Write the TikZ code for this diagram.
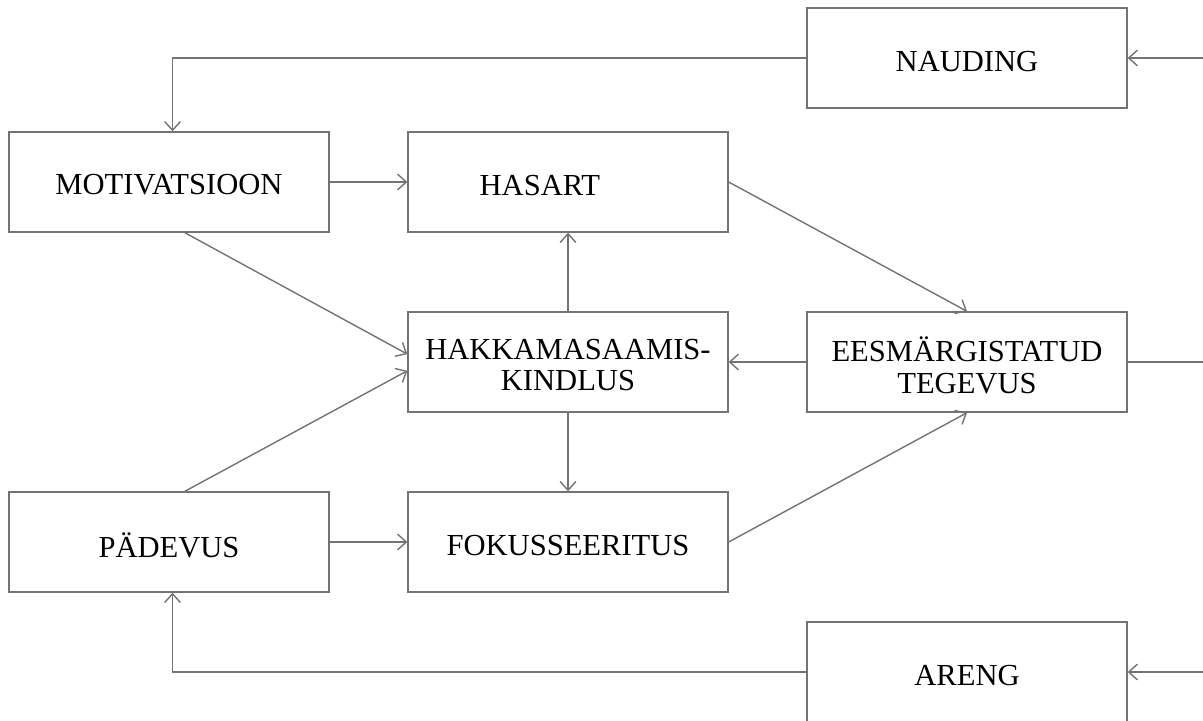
\documentclass[tikz,border=0pt]{standalone}
\usepackage{fontspec}
\setmainfont{Liberation Serif}
\usetikzlibrary{arrows.meta}

\tikzset{
  box/.style={draw=black!55, line width=0.8pt, minimum width=6.4cm, minimum height=2cm,
    align=center, font=\fontsize{17.4}{21}\selectfont, inner sep=0pt,
    execute at begin node=\rule{0pt}{15pt}},
  arr/.style={draw=black!55, line width=0.8pt, -{Straight Barb[length=5pt,width=9pt,line width=0.8pt]}},
  ln/.style={draw=black!55, line width=0.8pt}
}

\begin{document}
\begin{tikzpicture}[x=0.02cm,y=-0.02cm]
  \useasboundingbox (0,0) rectangle (1203,720);
  % boxes
  \node[box] (naud) at (967,58) {NAUDING};
  \node[box] (motiv) at (169,182) {MOTIVATSIOON};
  \node[box] (hasart) at (568,182) {HASART\hspace{32pt}};
  \node[box] (hakk) at (568,362) {\rule{0pt}{15pt}HAKKAMASAAMIS-\\[-3pt]KINDLUS};
  \node[box] (eesm) at (967,362) {\rule{0pt}{18pt}EESMÄRGISTATUD\\[-3pt]TEGEVUS};
  \node[box] (padev) at (169,542) {\raisebox{-3pt}{PÄDEVUS}};
  \node[box] (fokus) at (568,542) {FOKUSSEERITUS};
  \node[box] (areng) at (967,672) {ARENG};
  % edge of the loop
  \coordinate (r1) at (1203,58);
  \coordinate (r2) at (1203,362);
  \coordinate (r3) at (1203,672);
  % connectors
  \draw[arr] (r1) -- (naud.east);
  \draw[arr] (naud.west) -| ([xshift=2pt]motiv.north);
  \draw[arr] (motiv.east) -- (hasart.west);
  \draw[arr] ([xshift=9pt]motiv.south) -- ([yshift=4.5pt]hakk.west);
  \draw[arr] ([xshift=9pt]padev.north) -- ([yshift=-5pt]hakk.west);
  \draw[arr] (padev.east) -- (fokus.west);
  \draw[arr] (hakk.north) -- (hasart.south);
  \draw[arr] (hakk.south) -- (fokus.north);
  \draw[arr] (hasart.east) -- (eesm.north);
  \draw[arr] (fokus.east) -- (eesm.south);
  \draw[arr] (eesm.west) -- (hakk.east);
  \draw[ln] (eesm.east) -- (r2);
  \draw[arr] (r3) -- (areng.east);
  \draw[arr] (areng.west) -| ([xshift=2pt]padev.south);
\end{tikzpicture}
\end{document}
